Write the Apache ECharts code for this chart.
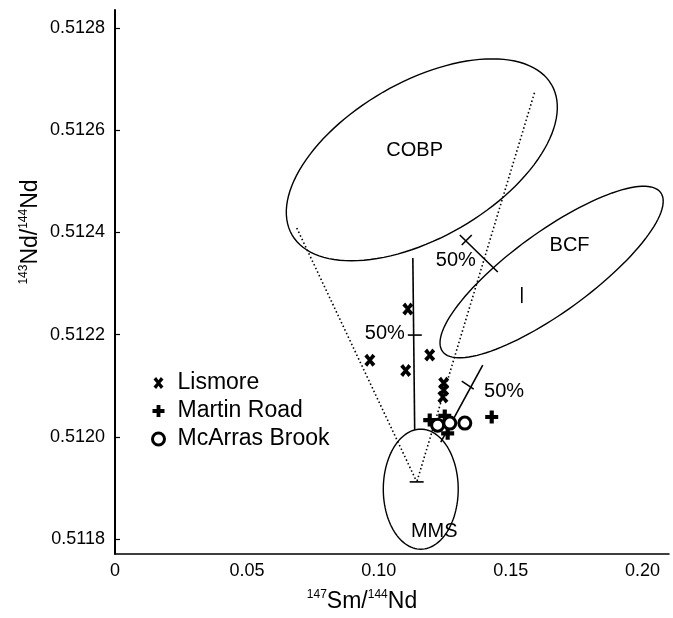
<!DOCTYPE html>
<html>
<head>
<meta charset="utf-8">
<script src="https://cdn.jsdelivr.net/npm/echarts@6/dist/echarts.min.js"></script>
<style>
  html, body { margin: 0; padding: 0; background: #fff; }
  #main { width: 673px; height: 618px; }
</style>
</head>
<body>
<div id="main"></div>
<script>
// samples (147Sm/144Nd, 143Nd/144Nd)
const lismore = [[0.0966, 0.51215], [0.1102, 0.51213], [0.1193, 0.51216], [0.1110, 0.51225],
                 [0.1246, 0.512105], [0.1246, 0.512092], [0.1243, 0.512078]];
const martinRoad = [[0.1193, 0.512033], [0.1250, 0.512041], [0.1261, 0.512007], [0.1428, 0.512039]];
const mcarrasBrook = [[0.1223, 0.512023], [0.1269, 0.512027], [0.1326, 0.512027]];

// end-member fields: centre, and two conjugate semi-axes in data units
const fieldNames = ['COBP', 'BCF', 'MMS'];
const fieldCentres = [[0.1163, 0.512542], [0.1655, 0.5123225], [0.1159, 0.5118978]];
const fieldAxisA = [[0.0492, 0.0001468], [0.04136, 0.0001553], [0.0142, 0]];
const fieldAxisB = [[0.01477, -0.0001321], [0.0089, -0.0000634], [0, 0.0001174]];
const fieldLabelPos = [[0.1136, 0.512561], [0.1723, 0.512375], [0.1210, 0.511816]];

// mixing lines (solid), tangent lines (dotted), 50% ticks and the MMS mean mark
const mixLines = [[0.1129, 0.51235, 0.1136, 0.512013],
                  [0.1394, 0.5121405, 0.1235, 0.5119898],
                  [0.1307, 0.512395, 0.1451, 0.5123225]];
const tangentLines = [[0.0689, 0.5124086, 0.1144, 0.511912],
                      [0.1590, 0.512673, 0.1144, 0.511912]];
const tickMarks = [[0.1110, 0.5121992, 0.1163, 0.5121992],
                   [0.13144, 0.5123753, 0.13523, 0.5123949],
                   [0.13144, 0.5121092, 0.13598, 0.5120935],
                   [0.1117, 0.511912, 0.1170, 0.511912],
                   [0.1542, 0.5122932, 0.1542, 0.5122618]];
const pctLabelPos = [[0.1023, 0.512203], [0.1292, 0.512346], [0.1475, 0.512088]];

const xTicks = [0, 0.05, 0.10, 0.15, 0.20];
const yTicks = [0.5118, 0.5120, 0.5122, 0.5124, 0.5126, 0.5128];

const FONT = '"Liberation Sans", Arial, sans-serif';
const crossIcon = 'path://M0,2.6 L2.6,0 L5,3.2 L7.4,0 L10,2.6 L6.9,6 L10,9.4 L7.4,12 L5,8.8 L2.6,12 L0,9.4 L3.1,6 Z';
const plusIcon = 'path://M3.4,0 H6.6 V3.4 H10 V6.6 H6.6 V10 H3.4 V6.6 H0 V3.4 H3.4 Z';

const chart = echarts.init(document.getElementById('main'));

function ellipseItem(params, api) {
  const i = params.dataIndex;
  const c = fieldCentres[i], a = fieldAxisA[i], b = fieldAxisB[i];
  const pts = [];
  for (let k = 0; k < 120; k++) {
    const t = (k / 120) * Math.PI * 2;
    pts.push(api.coord([c[0] + Math.cos(t) * a[0] + Math.sin(t) * b[0],
                        c[1] + Math.cos(t) * a[1] + Math.sin(t) * b[1]]));
  }
  return { type: 'polygon', shape: { points: pts },
           style: { fill: 'none', stroke: '#000', lineWidth: 1.4 } };
}

function segmentRenderer(dash) {
  return function (params, api) {
    const p1 = api.coord([api.value(0), api.value(1)]);
    const p2 = api.coord([api.value(2), api.value(3)]);
    return { type: 'line', shape: { x1: p1[0], y1: p1[1], x2: p2[0], y2: p2[1] },
             style: { stroke: '#000', lineWidth: 1.6, lineDash: dash ? [1.5, 2.5] : null } };
  };
}

const option = {
  backgroundColor: '#fff',
  animation: false,
  textStyle: { fontFamily: FONT, color: '#000' },
  grid: { left: 115, top: 10, width: 554, height: 544 },
  xAxis: {
    type: 'value', min: 0, max: 0.21,
    axisLine: { lineStyle: { color: '#000', width: 1.5 } },
    axisTick: { show: false },
    splitLine: { show: false },
    axisLabel: {
      customValues: xTicks, color: '#000', fontSize: 18, fontFamily: FONT, margin: 8,
      formatter: v => (v === 0 ? '0' : v.toFixed(2))
    }
  },
  yAxis: {
    type: 'value', min: 0.511771, max: 0.512835,
    axisLine: { lineStyle: { color: '#000', width: 2 } },
    axisTick: { customValues: yTicks, inside: true, length: 5, lineStyle: { color: '#000', width: 1.2 } },
    splitLine: { show: false },
    axisLabel: {
      customValues: yTicks, color: '#000', fontSize: 18, fontFamily: FONT, margin: 10,
      formatter: v => v.toFixed(4)
    }
  },
  legend: {
    orient: 'vertical', left: 146, top: 366, itemGap: 4,
    itemWidth: 12, itemHeight: 12,
    textStyle: { fontSize: 23, fontFamily: FONT, color: '#000', lineHeight: 24, padding: [0, 0, 0, 8] },
    data: [
      { name: 'Lismore', icon: crossIcon, itemStyle: { color: '#000', opacity: 1 } },
      { name: 'Martin Road', icon: plusIcon, itemStyle: { color: '#000', opacity: 1 } },
      { name: 'McArras Brook', icon: 'circle', itemStyle: { color: '#fff', borderColor: '#000', borderWidth: 3, opacity: 1 } }
    ]
  },
  graphic: [
    {
      type: 'text', x: 30, y: 232, rotation: Math.PI / 2,
      style: {
        text: '{s|143}{n|Nd/}{s|144}{n|Nd}', align: 'center', verticalAlign: 'middle',
        rich: {
          s: { fontSize: 12, fontFamily: FONT, fill: '#000', verticalAlign: 'top', lineHeight: 24 },
          n: { fontSize: 23, fontFamily: FONT, fill: '#000', verticalAlign: 'bottom', lineHeight: 24 }
        }
      }
    },
    {
      type: 'text', x: 362, y: 601,
      style: {
        text: '{s|147}{n|Sm/}{s|144}{n|Nd}', align: 'center', verticalAlign: 'middle',
        rich: {
          s: { fontSize: 12, fontFamily: FONT, fill: '#000', verticalAlign: 'top', lineHeight: 24 },
          n: { fontSize: 23, fontFamily: FONT, fill: '#000', verticalAlign: 'bottom', lineHeight: 24 }
        }
      }
    }
  ],
  series: [
    {
      type: 'custom', name: 'fields', renderItem: ellipseItem, silent: true, clip: false,
      data: fieldCentres, encode: { x: 0, y: 1 }
    },
    {
      type: 'custom', name: 'mixing', renderItem: segmentRenderer(false), silent: true,
      data: mixLines.concat(tickMarks), encode: { x: [0, 2], y: [1, 3] }
    },
    {
      type: 'custom', name: 'tangents', renderItem: segmentRenderer(true), silent: true,
      data: tangentLines, encode: { x: [0, 2], y: [1, 3] }
    },
    {
      type: 'scatter', name: 'labels', silent: true, symbolSize: 0,
      itemStyle: { opacity: 1 },
      data: fieldLabelPos.map((p, i) => ({ value: p, name: fieldNames[i] }))
        .concat(pctLabelPos.map(p => ({ value: p, name: '50%' }))),
      label: {
        show: true, position: 'inside', formatter: '{b}', color: '#000',
        fontSize: 20, fontFamily: FONT
      }
    },
    {
      type: 'scatter', name: 'Lismore', symbol: crossIcon, symbolSize: [11, 13],
      itemStyle: { color: '#000', opacity: 1 }, data: lismore, z: 5
    },
    {
      type: 'scatter', name: 'Martin Road', symbol: plusIcon, symbolSize: 13,
      itemStyle: { color: '#000', opacity: 1 }, data: martinRoad, z: 5
    },
    {
      type: 'scatter', name: 'McArras Brook', symbol: 'circle', symbolSize: 12,
      itemStyle: { color: '#fff', borderColor: '#000', borderWidth: 3, opacity: 1 }, data: mcarrasBrook, z: 6
    }
  ]
};

chart.setOption(option);
</script>
</body>
</html>
